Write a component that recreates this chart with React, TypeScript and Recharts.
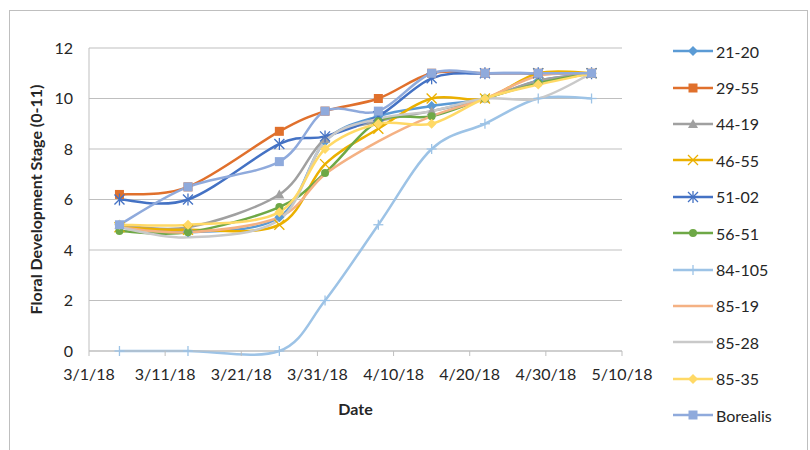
import { CartesianGrid, Line, LineChart, XAxis, YAxis } from "recharts";

const dates = [
  "2018-03-05",
  "2018-03-14",
  "2018-03-26",
  "2018-04-01",
  "2018-04-08",
  "2018-04-15",
  "2018-04-22",
  "2018-04-29",
  "2018-05-06",
];
const tickDates = [
  "2018-03-01",
  "2018-03-11",
  "2018-03-21",
  "2018-03-31",
  "2018-04-10",
  "2018-04-20",
  "2018-04-30",
  "2018-05-10",
];
const yTicks = [0, 2, 4, 6, 8, 10, 12];

const s2120 = [5.0, 4.7, 5.3, 8.3, 9.3, 9.7, 10.0, 10.7, 11.0];
const s2955 = [6.2, 6.5, 8.7, 9.5, 10.0, 11.0, 11.0, 11.0, 11.0];
const s4419 = [5.0, 4.9, 6.2, 8.4, 9.1, 9.5, 10.0, 10.7, 11.0];
const s4655 = [4.9, 4.8, 5.0, 7.4, 8.8, 10.0, 10.0, 11.0, 11.0];
const s5102 = [6.0, 6.0, 8.2, 8.5, 9.3, 10.8, 11.0, 11.0, 11.0];
const s5651 = [4.75, 4.7, 5.7, 7.05, 9.1, 9.3, 10.0, 10.6, 11.0];
const s84105 = [0, 0, 0, 2.0, 5.0, 8.0, 9.0, 10.0, 10.0];
const s8519 = [4.9, 4.7, 5.3, 7.0, 8.3, 9.3, 10.0, 10.9, 11.0];
const s8528 = [4.9, 4.5, 5.2, 8.3, 9.2, 9.5, 10.0, 10.0, 11.0];
const s8535 = [5.0, 5.0, 5.5, 8.0, 9.0, 9.0, 10.0, 10.55, 11.0];
const sBorealis = [5.0, 6.5, 7.5, 9.5, 9.5, 11.0, 11.0, 11.0, 11.0];

type MarkerKind = "diamond" | "square" | "triangle" | "x" | "star" | "circle" | "plus" | "none";

const series: { name: string; values: number[]; color: string; marker: MarkerKind }[] = [
  { name: "21-20", values: s2120, color: "#5B9BD5", marker: "diamond" },
  { name: "29-55", values: s2955, color: "#E0702C", marker: "square" },
  { name: "44-19", values: s4419, color: "#A0A0A0", marker: "triangle" },
  { name: "46-55", values: s4655, color: "#EBB000", marker: "x" },
  { name: "51-02", values: s5102, color: "#4472C4", marker: "star" },
  { name: "56-51", values: s5651, color: "#6EA846", marker: "circle" },
  { name: "84-105", values: s84105, color: "#9DC3E6", marker: "plus" },
  { name: "85-19", values: s8519, color: "#F4B183", marker: "none" },
  { name: "85-28", values: s8528, color: "#C9C9C9", marker: "none" },
  { name: "85-35", values: s8535, color: "#FFD966", marker: "diamond" },
  { name: "Borealis", values: sBorealis, color: "#8FAADC", marker: "square" },
];

const toTime = (s: string) => {
  const [y, m, d] = s.split("-").map(Number);
  return Date.UTC(y, m - 1, d);
};

const fmtDate = (v: number) => {
  const d = new Date(v);
  return `${d.getUTCMonth() + 1}/${d.getUTCDate()}/${String(d.getUTCFullYear()).slice(2)}`;
};

const rows = dates.map((d, i) => {
  const row: Record<string, number> = { t: toTime(d) };
  series.forEach((s) => {
    row[s.name] = s.values[i];
  });
  return row;
});

// Excel-style smoothed line (Catmull-Rom as bezier)
const excelSmooth = (context: any) => {
  let pts: number[][] = [];
  return {
    areaStart() {},
    areaEnd() {},
    lineStart() {
      pts = [];
    },
    point(x: number, y: number) {
      pts.push([+x, +y]);
    },
    lineEnd() {
      const n = pts.length;
      if (!n) return;
      context.moveTo(pts[0][0], pts[0][1]);
      for (let i = 0; i < n - 1; i++) {
        const p0 = pts[i - 1] || pts[i];
        const p1 = pts[i];
        const p2 = pts[i + 1];
        const p3 = pts[i + 2] || p2;
        context.bezierCurveTo(
          p1[0] + (p2[0] - p0[0]) / 6,
          p1[1] + (p2[1] - p0[1]) / 6,
          p2[0] - (p3[0] - p1[0]) / 6,
          p2[1] - (p3[1] - p1[1]) / 6,
          p2[0],
          p2[1]
        );
      }
    },
  };
};

function Marker({ kind, cx, cy, color }: { kind: MarkerKind; cx: number; cy: number; color: string }) {
  switch (kind) {
    case "diamond":
      return <polygon points={`${cx},${cy - 5} ${cx + 5},${cy} ${cx},${cy + 5} ${cx - 5},${cy}`} fill={color} />;
    case "square":
      return <rect x={cx - 4.5} y={cy - 4.5} width={9} height={9} fill={color} />;
    case "triangle":
      return <polygon points={`${cx},${cy - 5} ${cx + 5},${cy + 4} ${cx - 5},${cy + 4}`} fill={color} />;
    case "circle":
      return <circle cx={cx} cy={cy} r={4} fill={color} />;
    case "x":
      return (
        <g stroke={color} strokeWidth={1.3}>
          <line x1={cx - 5} y1={cy - 5} x2={cx + 5} y2={cy + 5} />
          <line x1={cx - 5} y1={cy + 5} x2={cx + 5} y2={cy - 5} />
        </g>
      );
    case "star":
      return (
        <g stroke={color} strokeWidth={1.3}>
          <line x1={cx - 5} y1={cy - 5} x2={cx + 5} y2={cy + 5} />
          <line x1={cx - 5} y1={cy + 5} x2={cx + 5} y2={cy - 5} />
          <line x1={cx} y1={cy - 6} x2={cx} y2={cy + 6} />
        </g>
      );
    case "plus":
      return (
        <g stroke={color} strokeWidth={1.3}>
          <line x1={cx} y1={cy - 5} x2={cx} y2={cy + 5} />
          <line x1={cx - 5} y1={cy} x2={cx + 5} y2={cy} />
        </g>
      );
    default:
      return null;
  }
}

const FONT = "Lato, 'Open Sans', sans-serif";
const TEXT = "#262626";
const AXIS = "#BFBFBF";

function ChartLegend() {
  return (
    <div style={{ position: "absolute", left: 673, top: 33, fontFamily: FONT, fontSize: 16, color: TEXT }}>
      {series.map((s) => (
        <div key={s.name} style={{ display: "flex", alignItems: "center", height: 36.4 }}>
          <svg width={40} height={14} style={{ marginRight: 3 }}>
            <line x1={0} y1={7} x2={40} y2={7} stroke={s.color} strokeWidth={2.5} />
            <Marker kind={s.marker} cx={20} cy={7} color={s.color} />
          </svg>
          <span>{s.name}</span>
        </div>
      ))}
    </div>
  );
}

export default function App() {
  return (
    <div
      style={{
        position: "fixed",
        left: 0,
        top: 0,
        width: 810,
        height: 450,
        overflow: "hidden",
        background: "#fff",
      }}
    >
      <div
        style={{
          position: "absolute",
          left: 9,
          top: 10,
          width: 799,
          height: 460,
          boxSizing: "border-box",
          border: `1px solid ${AXIS}`,
        }}
      />
      <div style={{ position: "absolute", left: 0, top: 0 }}>
        <LineChart width={810} height={450} data={rows} margin={{ top: 48, right: 188, bottom: 35, left: 29 }}>
          <CartesianGrid vertical={false} stroke={AXIS} />
          <XAxis
            dataKey="t"
            type="number"
            domain={[toTime(tickDates[0]), toTime(tickDates[tickDates.length - 1])]}
            ticks={tickDates.map(toTime)}
            interval={0}
            tickFormatter={fmtDate}
            height={64}
            tickSize={5}
            tickMargin={13}
            stroke={AXIS}
            tick={{ fill: TEXT, fontSize: 16, fontFamily: FONT }}
            label={{
              value: "Date",
              position: "insideBottom",
              offset: 0,
              style: { fill: TEXT, fontSize: 16, fontWeight: 700, fontFamily: FONT },
            }}
          />
          <YAxis
            domain={[0, 12]}
            ticks={yTicks}
            width={60}
            tickLine={false}
            tickSize={0}
            tickMargin={16}
            stroke={AXIS}
            tick={{ fill: TEXT, fontSize: 16, fontFamily: FONT }}
            label={{
              value: "Floral Development Stage (0-11)",
              angle: -90,
              position: "insideLeft",
              offset: 7,
              style: { textAnchor: "middle", fill: TEXT, fontSize: 16, fontWeight: 700, fontFamily: FONT },
            }}
          />
          {series.map((s) => (
            <Line
              key={s.name}
              dataKey={s.name}
              type={excelSmooth as any}
              stroke={s.color}
              strokeWidth={2.5}
              isAnimationActive={false}
              activeDot={false}
              dot={(p: any) => <Marker key={p.index} kind={s.marker} cx={p.cx} cy={p.cy} color={s.color} />}
            />
          ))}
        </LineChart>
      </div>
      <ChartLegend />
    </div>
  );
}
